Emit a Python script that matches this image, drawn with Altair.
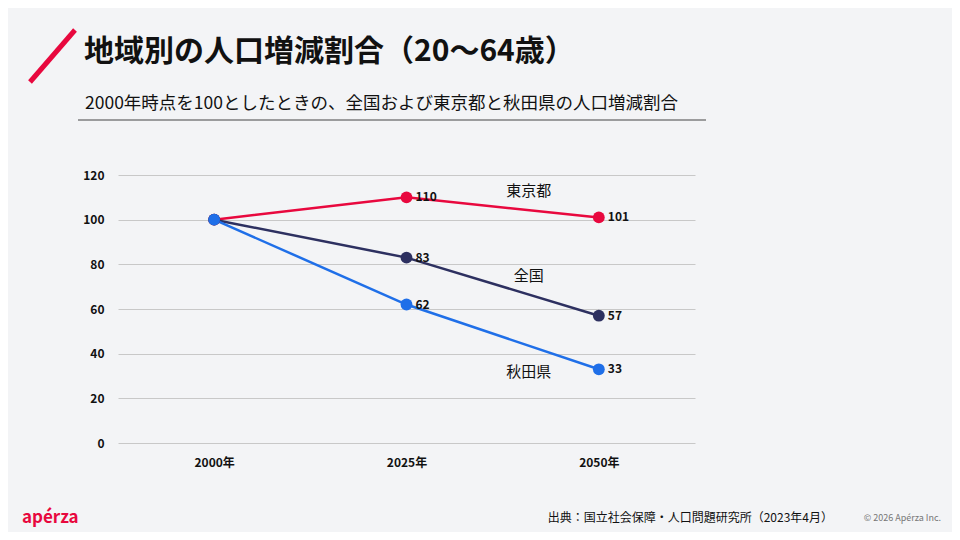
import altair as alt
import pandas as pd

years = ['2000年', '2025年', '2050年']
tokyo = [100, 110, 101]
national = [100, 83, 57]
akita = [100, 62, 33]
regions = ['東京都', '全国', '秋田県']
colors = ['#e8083e', '#2d3060', '#1f6fe8']
label_y = [113, 75, 32]

rows = []
for name, vals in zip(regions, [tokyo, national, akita]):
    for i, (yr, v) in enumerate(zip(years, vals)):
        rows.append({'year': yr, 'value': v, 'region': name, 'lab': '' if i == 0 else str(v)})
df = pd.DataFrame(rows)
lab_df = pd.DataFrame({'region': regions, 'y': label_y, 'year': ['2050年'] * 3})

FONT = 'Noto Sans CJK JP'
x = alt.X('year:N', sort=years, title=None,
          scale=alt.Scale(type='point', padding=0.5),
          axis=alt.Axis(labelAngle=0, labelFontWeight='bold', labelFontSize=12,
                        labelColor='#111', ticks=False, domain=False, labelPadding=14,
                        labelFont=FONT))
y = alt.Y('value:Q', title=None, scale=alt.Scale(domain=[0, 120]),
          axis=alt.Axis(values=[0, 20, 40, 60, 80, 100, 120], labelFontWeight='bold',
                        labelFontSize=12, labelColor='#111', ticks=False, domain=False,
                        gridColor='#c8c8c8', labelPadding=14, labelFont=FONT))
color = alt.Color('region:N', scale=alt.Scale(domain=regions, range=colors), legend=None)

base = alt.Chart(df).encode(x=x, y=y, color=color)
lines = base.mark_line(strokeWidth=2.5)
pts = base.mark_circle(size=140, opacity=1)
vals = base.mark_text(align='left', dx=9, fontWeight='bold', fontSize=12, font=FONT,
                      color='#111').encode(text='lab:N', color=alt.value('#111'))
names = alt.Chart(lab_df).mark_text(fontSize=15, font=FONT, color='#111', dx=-70).encode(
    x=alt.X('year:N', sort=years), y='y:Q', text='region:N')

one = pd.DataFrame({'a': [0]})
def txt(s, px, py, size, weight='normal', col='#111', align='left'):
    return alt.Chart(one).mark_text(text=s, fontSize=size, fontWeight=weight, color=col,
                                    align=align, baseline='middle', font=FONT).encode(
        x=alt.value(px), y=alt.value(py))

deco = [
    alt.Chart(one).mark_rule(color='#e8083e', strokeWidth=5).encode(
        x=alt.value(-88), x2=alt.value(-43), y=alt.value(-93), y2=alt.value(-145)),
    txt('地域別の人口増減割合（20〜64歳）', -34, -123, 30, 'bold'),
    txt('2000年時点を100としたときの、全国および東京都と秋田県の人口増減割合', -33, -71, 17.5),
    alt.Chart(one).mark_rule(color='#444', strokeWidth=1).encode(
        x=alt.value(-40), x2=alt.value(588), y=alt.value(-55)),
    txt('apérza', -96, 343, 17, 'bold', '#e8083e'),
    txt('出典：国立社会保障・人口問題研究所（2023年4月）', 715, 343, 12, align='right'),
    txt('© 2026 Apérza Inc.', 823, 343, 9, col='#777', align='right'),
]

chart = alt.layer(lines, pts, vals, names, *deco).properties(
    width=577, height=268, background='#f3f4f6',
    autosize=alt.AutoSizeParams(type='none'),
    padding={'left': 110, 'top': 167, 'right': 257, 'bottom': 89},
).configure_view(stroke=None)

chart.save('out.html', embed_options={'renderer': 'svg', 'actions': False})
